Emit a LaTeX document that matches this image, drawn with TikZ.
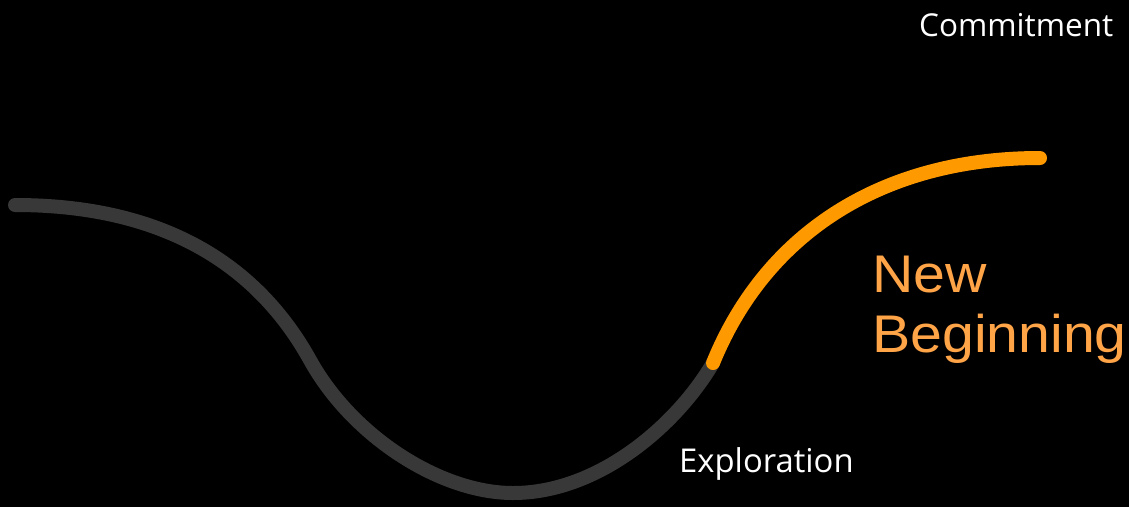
\documentclass[tikz,border=0pt]{standalone}
\usepackage{fontspec}
\setmainfont{Open Sans}
\newfontfamily\nbfont{Liberation Sans}
\definecolor{curvegray}{HTML}{383838}
\definecolor{curveorange}{HTML}{FF9900}
\definecolor{textorange}{HTML}{FFA447}
\begin{document}
\begin{tikzpicture}[x=1pt,y=-1pt,
  curve/.style={line width=14pt,line cap=round},
  phase/.style={text=white,font=\fontsize{31.5}{38}\selectfont,inner sep=0pt,anchor=base west},
  newphase/.style={text=textorange,font=\nbfont\fontsize{53}{60}\selectfont,inner sep=0pt,anchor=base west,xscale=1.08}]
\fill[black] (0,0) rectangle (1129,507);
\useasboundingbox (0,0) rectangle (1129,507);
\coordinate (start) at (15,205);
\coordinate (bend) at (310,360);
\coordinate (bottom) at (513,493);
\coordinate (junction) at (713,363);
\coordinate (end) at (1040,158);
\draw[curve,curvegray] (start) .. controls (170,205) and (260,270) .. (bend)
  .. controls (352,436) and (440,493) .. (bottom)
  .. controls (600,493) and (678,423) .. (junction);
\draw[curve,curveorange] (junction) .. controls (765,235) and (880,158) .. (end);
\node[phase] (commit) at (919,36.5) {Commitment};
\node[phase,font=\fontsize{32.8}{38}\selectfont] (explore) at (679,472) {Exploration};
\node[newphase] (nb1) at (872,292) {New};
\node[newphase] (nb2) at (872,352) {Beginning};
\end{tikzpicture}
\end{document}
